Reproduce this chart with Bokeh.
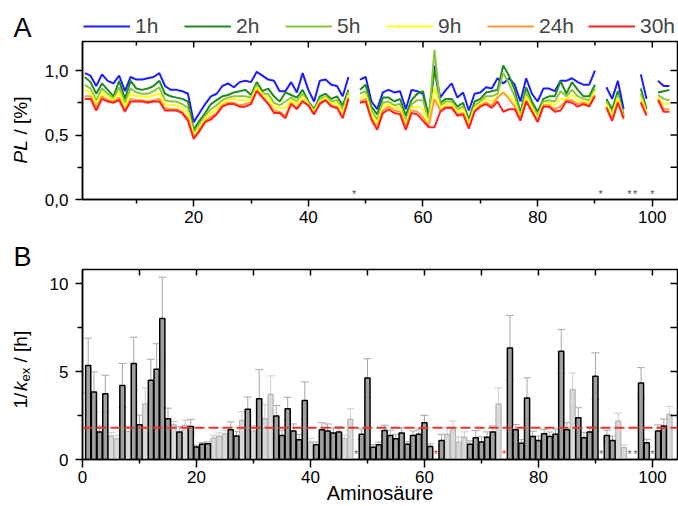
import math
from bokeh.plotting import figure
from bokeh.models import (ColumnDataSource, FixedTicker, Range1d, Legend,
                          LegendItem, Span, Whisker, TeeHead, CustomJSTickFormatter)
from bokeh.layouts import column, row
from bokeh.embed import file_html
from bokeh.resources import INLINE
from bokeh.core.properties import value

nan = float("nan")

# ---------------- data: panel A (PL in %) ----------------
residues = list(range(1, 104))
pl_1h = [0.98, 0.96, 0.88, 0.97, 0.92, 0.90, 0.96, 0.84, 0.95, 0.93,
         0.93, 0.94, 0.95, 0.98, 0.88, 0.85, 0.85, 0.84, 0.82, 0.60,
         0.67, 0.74, 0.80, 0.82, 0.88, 0.90, 0.87, 0.91, 0.92, 0.91,
         0.99, 0.96, 0.93, 0.92, 0.84, 0.84, 0.91, 0.83, 0.98, 0.85,
         0.76, 0.92, 0.93, 0.89, 0.88, 0.80, 0.95, nan, 0.93, 0.95,
         0.76, 0.70, 0.83, 0.85, 0.83, 0.84, 0.70, 0.85, 0.84, 0.82,
         0.63, 1.04, 0.79, 0.85, 0.90, 0.79, 0.83, 0.69, 0.82, 0.83,
         0.87, 0.86, 0.94, 0.90, 0.94, 0.89, 0.76, 0.94, 0.82, 0.76,
         0.86, 0.86, 0.84, 0.92, 0.92, 0.94, 0.91, 0.89, 0.89, 1.00,
         nan, 0.87, 0.78, 0.92, 0.70, nan, nan, 0.97, 0.78, nan,
         0.92, 0.88, 0.88]
pl_2h = [0.95, 0.91, 0.82, 0.90, 0.85, 0.80, 0.92, 0.78, 0.92, 0.86,
         0.85, 0.86, 0.88, 0.92, 0.82, 0.80, 0.79, 0.78, 0.76, 0.54,
         0.61, 0.67, 0.74, 0.77, 0.80, 0.81, 0.83, 0.84, 0.85, 0.81,
         0.91, 0.84, 0.86, 0.80, 0.76, 0.83, 0.81, 0.79, 0.85, 0.76,
         0.70, 0.80, 0.82, 0.78, 0.80, 0.73, 0.85, nan, 0.85, 0.89,
         0.72, 0.66, 0.79, 0.79, 0.76, 0.78, 0.65, 0.77, 0.82, 0.84,
         0.64, 1.01, 0.75, 0.78, 0.78, 0.72, 0.75, 0.62, 0.76, 0.78,
         0.83, 0.84, 0.85, 1.04, 0.96, 0.85, 0.67, 0.87, 0.76, 0.68,
         0.78, 0.80, 0.80, 0.92, 0.82, 0.91, 0.85, 0.80, 0.80, 0.89,
         nan, 0.78, 0.70, 0.84, 0.65, nan, nan, 0.86, 0.70, nan,
         0.83, 0.84, 0.85]
pl_5h = [0.89, 0.86, 0.77, 0.86, 0.82, 0.78, 0.87, 0.75, 0.86, 0.83,
         0.82, 0.82, 0.84, 0.87, 0.77, 0.76, 0.76, 0.74, 0.71, 0.52,
         0.58, 0.65, 0.70, 0.73, 0.77, 0.79, 0.80, 0.80, 0.80, 0.79,
         0.89, 0.82, 0.82, 0.75, 0.73, 0.76, 0.79, 0.76, 0.82, 0.75,
         0.69, 0.78, 0.80, 0.76, 0.77, 0.70, 0.83, nan, 0.82, 0.84,
         0.69, 0.62, 0.75, 0.76, 0.73, 0.74, 0.61, 0.74, 0.77, 0.77,
         0.61, 1.16, 0.73, 0.76, 0.76, 0.70, 0.72, 0.60, 0.73, 0.76,
         0.80, 0.80, 0.82, 0.98, 0.90, 0.80, 0.65, 0.83, 0.73, 0.65,
         0.76, 0.77, 0.76, 0.84, 0.80, 0.85, 0.80, 0.78, 0.77, 0.86,
         nan, 0.76, 0.67, 0.81, 0.64, nan, nan, 0.82, 0.68, nan,
         0.81, 0.78, 0.77]
pl_9h = [0.85, 0.83, 0.74, 0.83, 0.80, 0.77, 0.83, 0.72, 0.82, 0.80,
         0.80, 0.79, 0.81, 0.82, 0.74, 0.73, 0.73, 0.71, 0.67, 0.50,
         0.56, 0.63, 0.67, 0.70, 0.75, 0.77, 0.78, 0.77, 0.77, 0.77,
         0.87, 0.81, 0.79, 0.72, 0.71, 0.71, 0.77, 0.74, 0.80, 0.74,
         0.68, 0.76, 0.79, 0.74, 0.75, 0.67, 0.81, nan, 0.79, 0.81,
         0.66, 0.59, 0.72, 0.74, 0.71, 0.71, 0.58, 0.71, 0.72, 0.70,
         0.59, 0.87, 0.71, 0.74, 0.74, 0.68, 0.70, 0.58, 0.71, 0.74,
         0.78, 0.76, 0.80, 0.83, 0.80, 0.76, 0.63, 0.80, 0.71, 0.63,
         0.74, 0.75, 0.73, 0.78, 0.78, 0.81, 0.77, 0.76, 0.75, 0.84,
         nan, 0.74, 0.65, 0.79, 0.63, nan, nan, 0.79, 0.67, nan,
         0.79, 0.74, 0.74]
pl_24h = [0.80, 0.80, 0.71, 0.80, 0.77, 0.76, 0.79, 0.69, 0.78, 0.77,
          0.77, 0.76, 0.77, 0.78, 0.71, 0.70, 0.70, 0.68, 0.63, 0.48,
          0.54, 0.61, 0.64, 0.67, 0.73, 0.75, 0.75, 0.73, 0.74, 0.75,
          0.85, 0.80, 0.75, 0.69, 0.68, 0.65, 0.75, 0.71, 0.77, 0.73,
          0.66, 0.75, 0.77, 0.73, 0.72, 0.64, 0.79, nan, 0.76, 0.78,
          0.63, 0.56, 0.69, 0.72, 0.69, 0.68, 0.56, 0.69, 0.68, 0.64,
          0.57, 0.78, 0.69, 0.72, 0.72, 0.66, 0.67, 0.56, 0.69, 0.73,
          0.75, 0.73, 0.79, 0.83, 0.78, 0.72, 0.62, 0.77, 0.69, 0.61,
          0.73, 0.73, 0.70, 0.72, 0.77, 0.77, 0.74, 0.75, 0.73, 0.81,
          nan, 0.72, 0.62, 0.76, 0.62, nan, nan, 0.76, 0.66, nan,
          0.78, 0.70, 0.70]
pl_30h = [0.78, 0.78, 0.69, 0.78, 0.76, 0.75, 0.77, 0.68, 0.76, 0.76,
          0.76, 0.75, 0.76, 0.76, 0.69, 0.69, 0.69, 0.67, 0.61, 0.47,
          0.53, 0.60, 0.62, 0.66, 0.72, 0.74, 0.74, 0.72, 0.72, 0.74,
          0.84, 0.79, 0.74, 0.67, 0.67, 0.63, 0.74, 0.70, 0.76, 0.73,
          0.66, 0.74, 0.77, 0.72, 0.71, 0.63, 0.78, nan, 0.75, 0.76,
          0.62, 0.54, 0.67, 0.70, 0.67, 0.66, 0.54, 0.67, 0.66, 0.61,
          0.56, 0.56, 0.68, 0.71, 0.71, 0.65, 0.66, 0.55, 0.68, 0.72,
          0.74, 0.71, 0.76, 0.68, 0.70, 0.70, 0.61, 0.76, 0.68, 0.60,
          0.72, 0.72, 0.68, 0.69, 0.76, 0.75, 0.72, 0.74, 0.72, 0.80,
          nan, 0.71, 0.61, 0.75, 0.63, nan, nan, 0.75, 0.65, nan,
          0.77, 0.68, 0.68]
series_labels = ["1h", "2h", "5h", "9h", "24h", "30h"]
series_values = [pl_1h, pl_2h, pl_5h, pl_9h, pl_24h, pl_30h]
series_colors = ["#1c1cff", "#1f8a1f", "#8cc63e", "#ffff1a", "#ff9a3c", "#ff2222"]
missing_residues = [48, 91, 96, 97, 100]

# ---------------- data: panel B (1/kex in h) ----------------
kex_inv = [5.35, 3.83, 1.56, 3.74, 1.33, 1.18, 4.21, 1.60, 5.45, 1.97,
           3.17, 4.50, 5.13, 8.01, 2.32, 1.97, 1.56, 1.94, 1.88, 0.71,
           0.86, 0.90, 1.22, 1.31, 1.46, 1.69, 1.33, 2.22, 2.85, 1.62,
           3.46, 2.32, 3.70, 2.47, 1.37, 2.89, 1.62, 1.12, 3.36, 0.99,
           0.84, 1.69, 1.62, 1.50, 1.56, 1.18, 2.28, nan, 1.43, 4.63,
           0.70, 0.84, 1.65, 1.37, 1.18, 1.50, 0.86, 1.37, 1.43, 2.09,
           0.74, nan, 1.08, 1.43, 1.69, 0.99, 1.27, 0.86, 1.24, 0.99,
           1.27, 1.56, 3.17, nan, 6.34, 1.69, 0.93, 3.49, 1.31, 1.08,
           1.46, 1.31, 1.43, 6.15, 1.69, 3.97, 2.37, 1.24, 1.56, 4.73,
           nan, 1.37, 1.08, 2.18, 0.67, nan, nan, 4.35, 0.95, nan,
           1.62, 1.90, 2.56]
kex_err = [1.55, 1.15, 0.35, 1.05, 0.20, 0.20, 1.25, 0.30, 1.50, 0.55,
           0.90, 1.20, 1.45, 2.35, 0.60, 0.20, 0.30, 0.30, 0.40, 0.10,
           0.10, 0.10, 0.15, 0.20, 0.20, 0.45, 0.25, 0.50, 0.70, 0.30,
           1.65, 0.80, 1.05, 0.60, 0.30, 0.65, 0.40, 0.30, 1.05, 0.20,
           0.15, 0.40, 0.40, 0.30, 0.30, 0.20, 0.60, nan, 0.30, 1.10,
           0.15, 0.15, 0.30, 0.30, 0.25, 0.30, 0.15, 0.25, 0.30, 0.42,
           0.15, nan, 0.35, 0.35, 0.50, 0.30, 0.30, 0.20, 0.40, 0.30,
           0.30, 0.35, 0.90, nan, 1.85, 0.30, 0.20, 1.15, 0.30, 0.25,
           0.25, 0.25, 0.30, 1.25, 0.40, 0.95, 0.57, 0.30, 0.30, 1.33,
           nan, 0.30, 0.25, 0.45, 0.15, nan, nan, 0.87, 0.20, nan,
           0.35, 0.40, 0.46]
kex_kind = ["D", "D", "D", "D", "L", "L", "D", "L", "D", "D",
            "L", "D", "D", "D", "D", "L", "D", "L", "D", "D",
            "D", "D", "L", "L", "L", "D", "D", "L", "D", "L",
            "D", "L", "L", "D", "D", "D", "D", "D", "D", "L",
            "D", "D", "D", "D", "D", "L", "L", "-", "D", "D",
            "D", "D", "D", "D", "D", "D", "D", "D", "D", "D",
            "D", "-", "D", "L", "L", "L", "L", "D", "D", "D",
            "D", "D", "L", "-", "D", "D", "D", "D", "D", "D",
            "D", "D", "D", "D", "D", "L", "D", "D", "D", "D",
            "-", "D", "D", "L", "L", "-", "-", "D", "D", "-",
            "D", "D", "L"]
mean_inv_kex = 1.8
gray_star_residues = [48, 91, 96, 97, 100]
red_star_residues = [62, 74]

# ticks
x_major = [0, 20, 40, 60, 80, 100]
x_minor = [10, 30, 50, 70, 90]
yA_major = [0, 0.5, 1.0]
yA_minor = [0.25, 0.75]
yB_major = [0, 5, 10]
yB_minor = [2.5, 7.5]

FONT = "Liberation Sans"


def style_axis(ax, major_out, minor_out, standoff):
    ax.axis_line_width = 1.5
    ax.axis_line_color = "black"
    ax.major_tick_line_width = 1.5
    ax.minor_tick_line_width = 1.5
    ax.major_tick_line_color = "black"
    ax.minor_tick_line_color = "black"
    ax.major_tick_out = major_out
    ax.major_tick_in = 0
    ax.minor_tick_out = minor_out
    ax.minor_tick_in = 0
    ax.major_label_text_font = FONT
    ax.major_label_text_font_size = "17px"
    ax.major_label_text_color = "black"
    ax.major_label_standoff = standoff


def inner_ticks(p, xr, yr, top_ticks, top_len, right_ticks, right_len):
    # inward-pointing mirror ticks along the top and right frame edges
    for ticks, length in zip(top_ticks, top_len):
        p.ray(x=ticks, y=[yr.end] * len(ticks), length=length, length_units="screen",
              angle=-math.pi / 2, line_color="black", line_width=1.5)
    p.ray(x=[xr.end] * len(right_ticks), y=right_ticks, length=right_len, length_units="screen",
          angle=math.pi, line_color="black", line_width=1.5)


def text_canvas(w, h):
    f = figure(width=w, height=h, x_range=Range1d(0, w), y_range=Range1d(0, h),
               output_backend="svg", toolbar_location=None, x_axis_type=None, y_axis_type=None,
               min_border=0, min_border_left=0, min_border_right=0, min_border_top=0, min_border_bottom=0)
    f.outline_line_color = None
    f.grid.visible = False
    return f


def put_text(f, x, y, txt, size, style="normal", angle=0.0, align="left", baseline="middle"):
    f.text(x=[x], y=[y], text=[txt], angle=angle, text_font=value(FONT), text_font_size=size,
           text_font_style=style, text_align=align, text_baseline=baseline, text_color="black")


# ---------------- left label column ----------------
labA = text_canvas(40, 240)
put_text(labA, 13, 212.5, "A", "27px")
put_text(labA, 20, 77, "PL", "19px", style="italic", angle=math.pi / 2)
put_text(labA, 20, 106, "/ [%]", "19px", angle=math.pi / 2)

labB = text_canvas(40, 266)
put_text(labB, 13, 249.5, "B", "27px")
put_text(labB, 20, 98, "1/", "19px", angle=math.pi / 2)
put_text(labB, 20, 115.5, "k", "19px", style="italic", angle=math.pi / 2)
put_text(labB, 25, 125, "ex", "13px", angle=math.pi / 2)
put_text(labB, 20, 144, "/ [h]", "19px", angle=math.pi / 2)

# ---------------- header: legend (frame is aligned with panel frames) ----------------
header = text_canvas(638, 39)
dummy = []
for col in series_colors:
    dummy.append(header.line(x=[nan], y=[nan], line_color=col, line_width=2))
legend = Legend(items=[LegendItem(label=lab, renderers=[r]) for lab, r in zip(series_labels, dummy)],
                orientation="horizontal", location=(1, 1), glyph_width=47, glyph_height=24,
                label_standoff=5, label_width=49, label_height=24, spacing=0, padding=0, margin=0,
                border_line_color=None, background_fill_alpha=0,
                label_text_font=FONT, label_text_font_size="21px")
header.add_layout(legend)

# ---------------- panel A ----------------
xrA = Range1d(0.6, 104.4)
yrA = Range1d(0, 1.225)
pA = figure(width=638, height=201, x_range=xrA, y_range=yrA,
            output_backend="svg", toolbar_location=None,
            min_border_left=42, min_border_right=1, min_border_top=2, min_border_bottom=41)
pA.grid.visible = False
pA.outline_line_color = "black"
pA.outline_line_width = 1.5

srcA = ColumnDataSource(dict(res=residues, **{lab: vals for lab, vals in zip(series_labels, series_values)}))
for lab, col in zip(series_labels, series_colors):
    pA.line("res", lab, source=srcA, line_color=col, line_width=2)

pA.xaxis.ticker = FixedTicker(ticks=x_major[1:], minor_ticks=x_minor)
style_axis(pA.xaxis[0], 7, 4, 4)
pA.yaxis.ticker = FixedTicker(ticks=yA_major, minor_ticks=yA_minor)
pA.yaxis.formatter = CustomJSTickFormatter(code="return tick.toFixed(1).replace('.', ',');")
style_axis(pA.yaxis[0], 7, 5, 7)
inner_ticks(pA, xrA, yrA, [x_major[1:], x_minor], [6, 4], yA_minor + yA_major[1:], 7)

pA.text(x=missing_residues, y=[0] * len(missing_residues), text=["*"] * len(missing_residues),
        text_font_size="11px", text_align="center", text_baseline="bottom", text_color="#555555")

# ---------------- panel B ----------------
xrB = Range1d(0, 104.4)
yrB = Range1d(0, 10.8)
pB = figure(width=638, height=266, x_range=xrB, y_range=yrB,
            output_backend="svg", toolbar_location=None,
            min_border_left=38, min_border_right=1, min_border_top=29, min_border_bottom=47)
pB.grid.visible = False
pB.outline_line_color = "black"
pB.outline_line_width = 1.5


def subset(kind):
    idx = [i for i, k in enumerate(kex_kind) if k == kind]
    return ColumnDataSource(dict(
        res=[residues[i] for i in idx],
        val=[kex_inv[i] for i in idx],
        upper=[kex_inv[i] + kex_err[i] for i in idx],
        lower=[kex_inv[i] - kex_err[i] for i in idx],
    ))


srcL = subset("L")
srcD = subset("D")
pB.vbar(x="res", top="val", width=0.9, source=srcL, fill_color="#d9d9d9", line_color="#b5b5b5", line_width=1.2)
pB.vbar(x="res", top="val", width=0.9, source=srcD, fill_color="#a0a0a0", line_color="black", line_width=1.5)
for src, col in ((srcL, "#cfcfcf"), (srcD, "#a8a8a8")):
    pB.add_layout(Whisker(source=src, base="res", upper="upper", lower="lower", line_color=col, line_width=1,
                          upper_head=TeeHead(size=8, line_color=col, line_width=1),
                          lower_head=TeeHead(size=8, line_color=col, line_width=1)))

pB.add_layout(Span(location=mean_inv_kex, dimension="width", line_color="#e8352b", line_width=2, line_dash="10 4"))

pB.text(x=gray_star_residues, y=[0] * len(gray_star_residues), text=["*"] * len(gray_star_residues),
        text_font_size="11px", text_align="center", text_baseline="bottom", text_color="#666666")
pB.text(x=red_star_residues, y=[0] * len(red_star_residues), text=["*"] * len(red_star_residues),
        text_font_size="11px", text_align="center", text_baseline="bottom", text_color="#ee3333")

pB.xaxis.ticker = FixedTicker(ticks=x_major, minor_ticks=x_minor)
style_axis(pB.xaxis[0], 8, 4, 3)
pB.xaxis.axis_label = "Aminosäure"
pB.xaxis.axis_label_text_font = FONT
pB.xaxis.axis_label_text_font_size = "20px"
pB.xaxis.axis_label_text_font_style = "normal"
pB.xaxis.axis_label_text_color = "black"
pB.xaxis.axis_label_standoff = -4
pB.yaxis.ticker = FixedTicker(ticks=yB_major, minor_ticks=yB_minor)
style_axis(pB.yaxis[0], 7, 5, 7)
inner_ticks(pB, xrB, yrB, [x_major[1:] + x_minor], [6], yB_minor + yB_major[1:], 7)

layout = row(column(labA, labB, spacing=0), column(header, pA, pB, spacing=0), spacing=0)
open("out.html", "w").write(file_html(layout, INLINE))
